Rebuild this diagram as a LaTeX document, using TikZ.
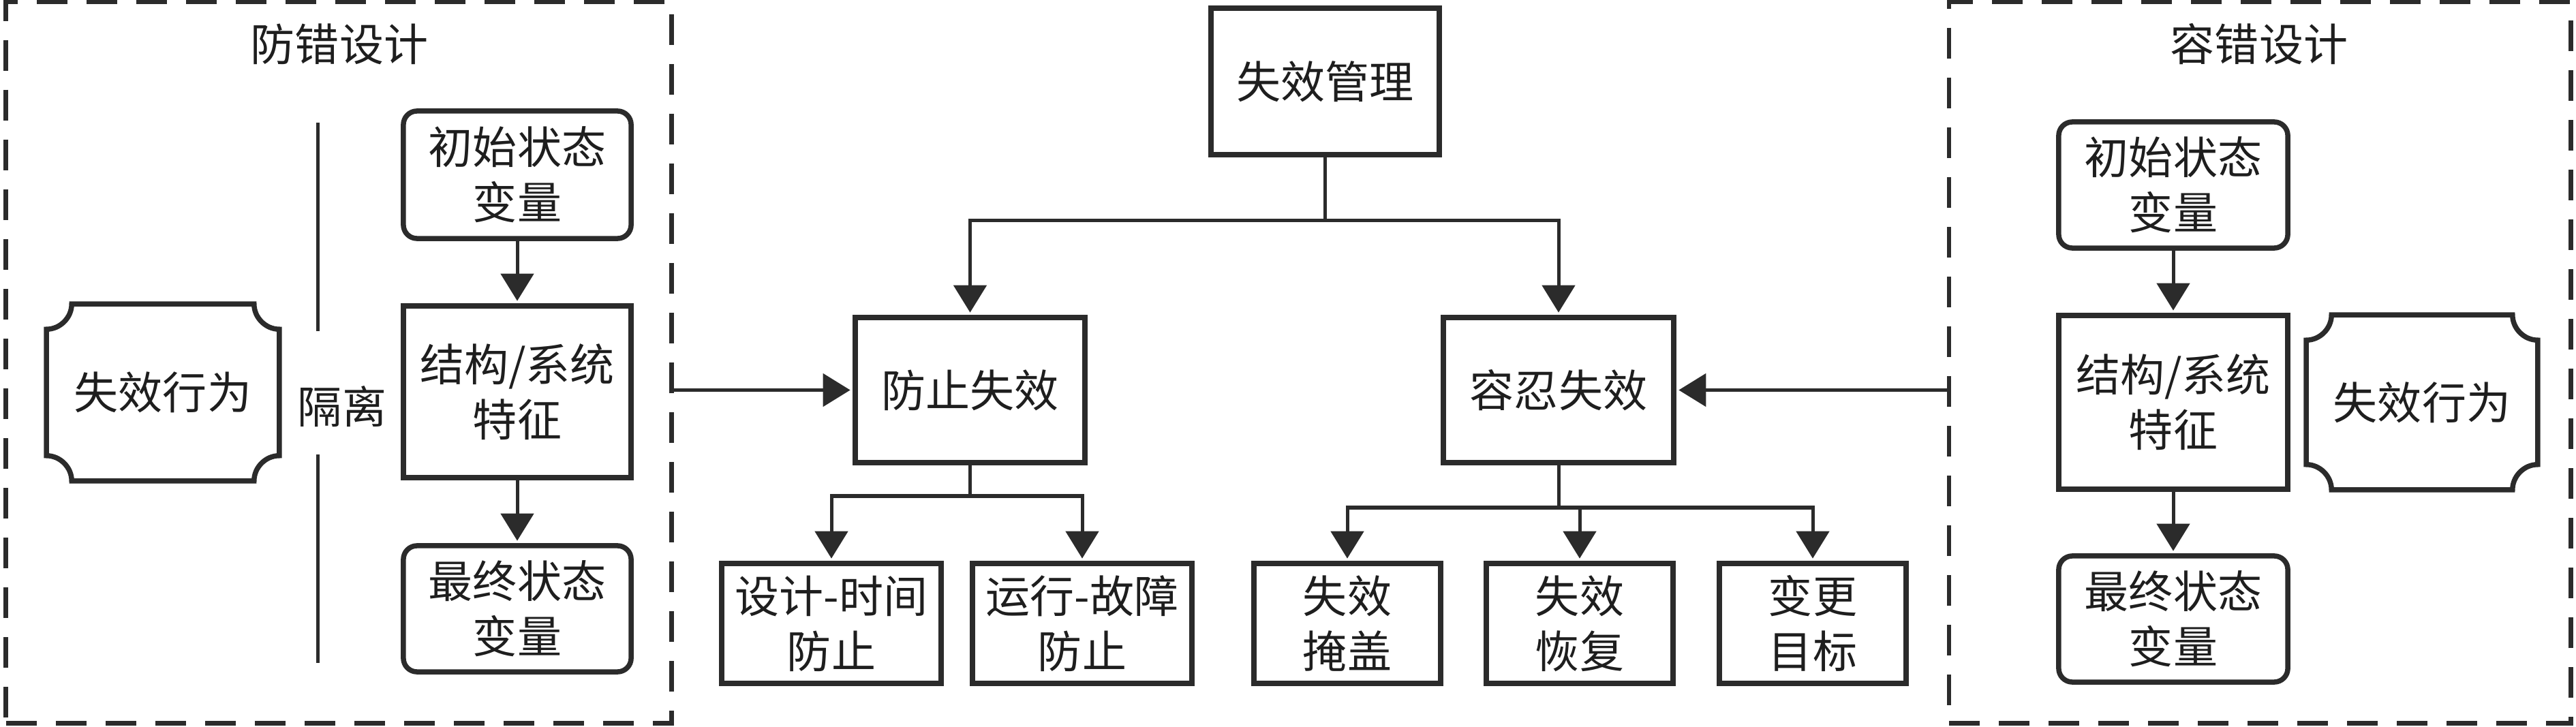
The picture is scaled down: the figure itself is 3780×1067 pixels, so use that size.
\documentclass[tikz,border=0pt]{standalone}
\usepackage{fontspec}
\setmainfont{Noto Sans CJK SC}
\usetikzlibrary{arrows.meta,calc}
\definecolor{ink}{RGB}{43,43,43}
\definecolor{txt}{RGB}{30,30,30}
\newcommand\drawconcave[1]{%
 \draw[ink,line width=0.075cm]
 ($(#1.north west)+(37,0)$) -- ($(#1.north east)+(-37,0)$)
 .. controls ($(#1.north east)+(-37,20)$) and ($(#1.north east)+(-20,37)$) .. ($(#1.north east)+(0,37)$)
 -- ($(#1.south east)+(0,-37)$)
 .. controls ($(#1.south east)+(-20,-37)$) and ($(#1.south east)+(-37,-20)$) .. ($(#1.south east)+(-37,0)$)
 -- ($(#1.south west)+(37,0)$)
 .. controls ($(#1.south west)+(37,-20)$) and ($(#1.south west)+(20,-37)$) .. ($(#1.south west)+(0,-37)$)
 -- ($(#1.north west)+(0,37)$)
 .. controls ($(#1.north west)+(20,37)$) and ($(#1.north west)+(37,20)$) .. cycle;}
\begin{document}
\begin{tikzpicture}[x=0.01cm,y=-0.01cm,
  every node/.style={text=txt,font=\fontsize{18.5pt}{23pt}\selectfont,align=center,inner sep=0pt},
  sq/.style={draw=ink,line width=0.075cm,rectangle},
  rnd/.style={sq,rounded corners=0.2cm},
  conn/.style={draw=ink,line width=0.05cm},
  arr/.style={conn,shorten >=0.035cm,-{Triangle[width=0.48cm,length=0.40cm]}},
  frame/.style={draw=ink,line width=0.065cm,dash pattern=on 0.45cm off 0.28cm,rectangle}]
\useasboundingbox (0,0) rectangle (3780,1067);
% frames
\node[frame,minimum width=9.76cm,minimum height=10.58cm] (lbox) at (497,532) {};
\node[frame,minimum width=9.12cm,minimum height=10.58cm] (rbox) at (3316,532) {};
\node (ltitle) at (498,65) {防错设计};
\node (rtitle) at (3315,65) {容错设计};
% left group
\node[minimum width=3.40cm,minimum height=2.58cm] (lfb) at (239,576) {失效行为};
\drawconcave{lfb}
\node[rnd,minimum width=3.34cm,minimum height=1.87cm] (linit) at (759,256.5) {初始状态\\变量};
\node[sq,minimum width=3.34cm,minimum height=2.52cm] (lstruct) at (759,575) {结构/系统\\特征};
\node[rnd,minimum width=3.34cm,minimum height=1.85cm] (lfinal) at (759,893.5) {最终状态\\变量};
\node (iso) at (502,597) {隔离};
\coordinate (isoa) at (466,180);
\coordinate (isob) at (466,486);
\coordinate (isoc) at (466,667);
\coordinate (isod) at (466,973);
\draw[conn] (isoa) -- (isob);
\draw[conn] (isoc) -- (isod);
\draw[arr] (linit) -- (lstruct);
\draw[arr] (lstruct) -- (lfinal);
% center
\node[sq,minimum width=3.35cm,minimum height=2.15cm] (mgmt) at (1944.5,119.5) {失效管理};
\node[sq,minimum width=3.37cm,minimum height=2.13cm] (prev) at (1423.5,572.5) {防止失效};
\node[sq,minimum width=3.38cm,minimum height=2.13cm] (tol) at (2287,572.5) {容忍失效};
\node[sq,minimum width=3.22cm,minimum height=1.76cm] (c1) at (1220,915) {设计-时间\\防止};
\node[sq,minimum width=3.22cm,minimum height=1.76cm] (c2) at (1588,915) {运行-故障\\防止};
\node[sq,minimum width=2.74cm,minimum height=1.76cm] (c3) at (1977,915) {失效\\掩盖};
\node[sq,minimum width=2.74cm,minimum height=1.76cm] (c4) at (2318,915) {失效\\恢复};
\node[sq,minimum width=2.74cm,minimum height=1.76cm] (c5) at (2660,915) {变更\\目标};
\coordinate (j1) at (1944.5,324);
\coordinate (j2) at (1423.5,728);
\coordinate (j3) at (2287,745);
\draw[conn] (mgmt) -- (j1);
\draw[arr] (j1) -| (prev);
\draw[arr] (j1) -| (tol);
\draw[conn] (prev) -- (j2);
\draw[arr] (j2) -| (c1);
\draw[arr] (j2) -| (c2);
\draw[conn] (tol) -- (j3);
\draw[arr] (j3) -| (c3);
\draw[arr] (j3) -| (c4);
\draw[arr] (j3) -| (c5);
\draw[arr] (lbox.east |- prev) -- (prev);
\draw[arr] (rbox.west |- tol) -- (tol);
% right group
\node[rnd,minimum width=3.36cm,minimum height=1.85cm] (rinit) at (3189,271.5) {初始状态\\变量};
\node[sq,minimum width=3.36cm,minimum height=2.55cm] (rstruct) at (3189,590.5) {结构/系统\\特征};
\node[rnd,minimum width=3.36cm,minimum height=1.85cm] (rfinal) at (3189,908.5) {最终状态\\变量};
\node[minimum width=3.38cm,minimum height=2.55cm] (rfb) at (3554,590.5) {失效行为};
\drawconcave{rfb}
\draw[arr] (rinit) -- (rstruct);
\draw[arr] (rstruct) -- (rfinal);
\end{tikzpicture}
\end{document}
